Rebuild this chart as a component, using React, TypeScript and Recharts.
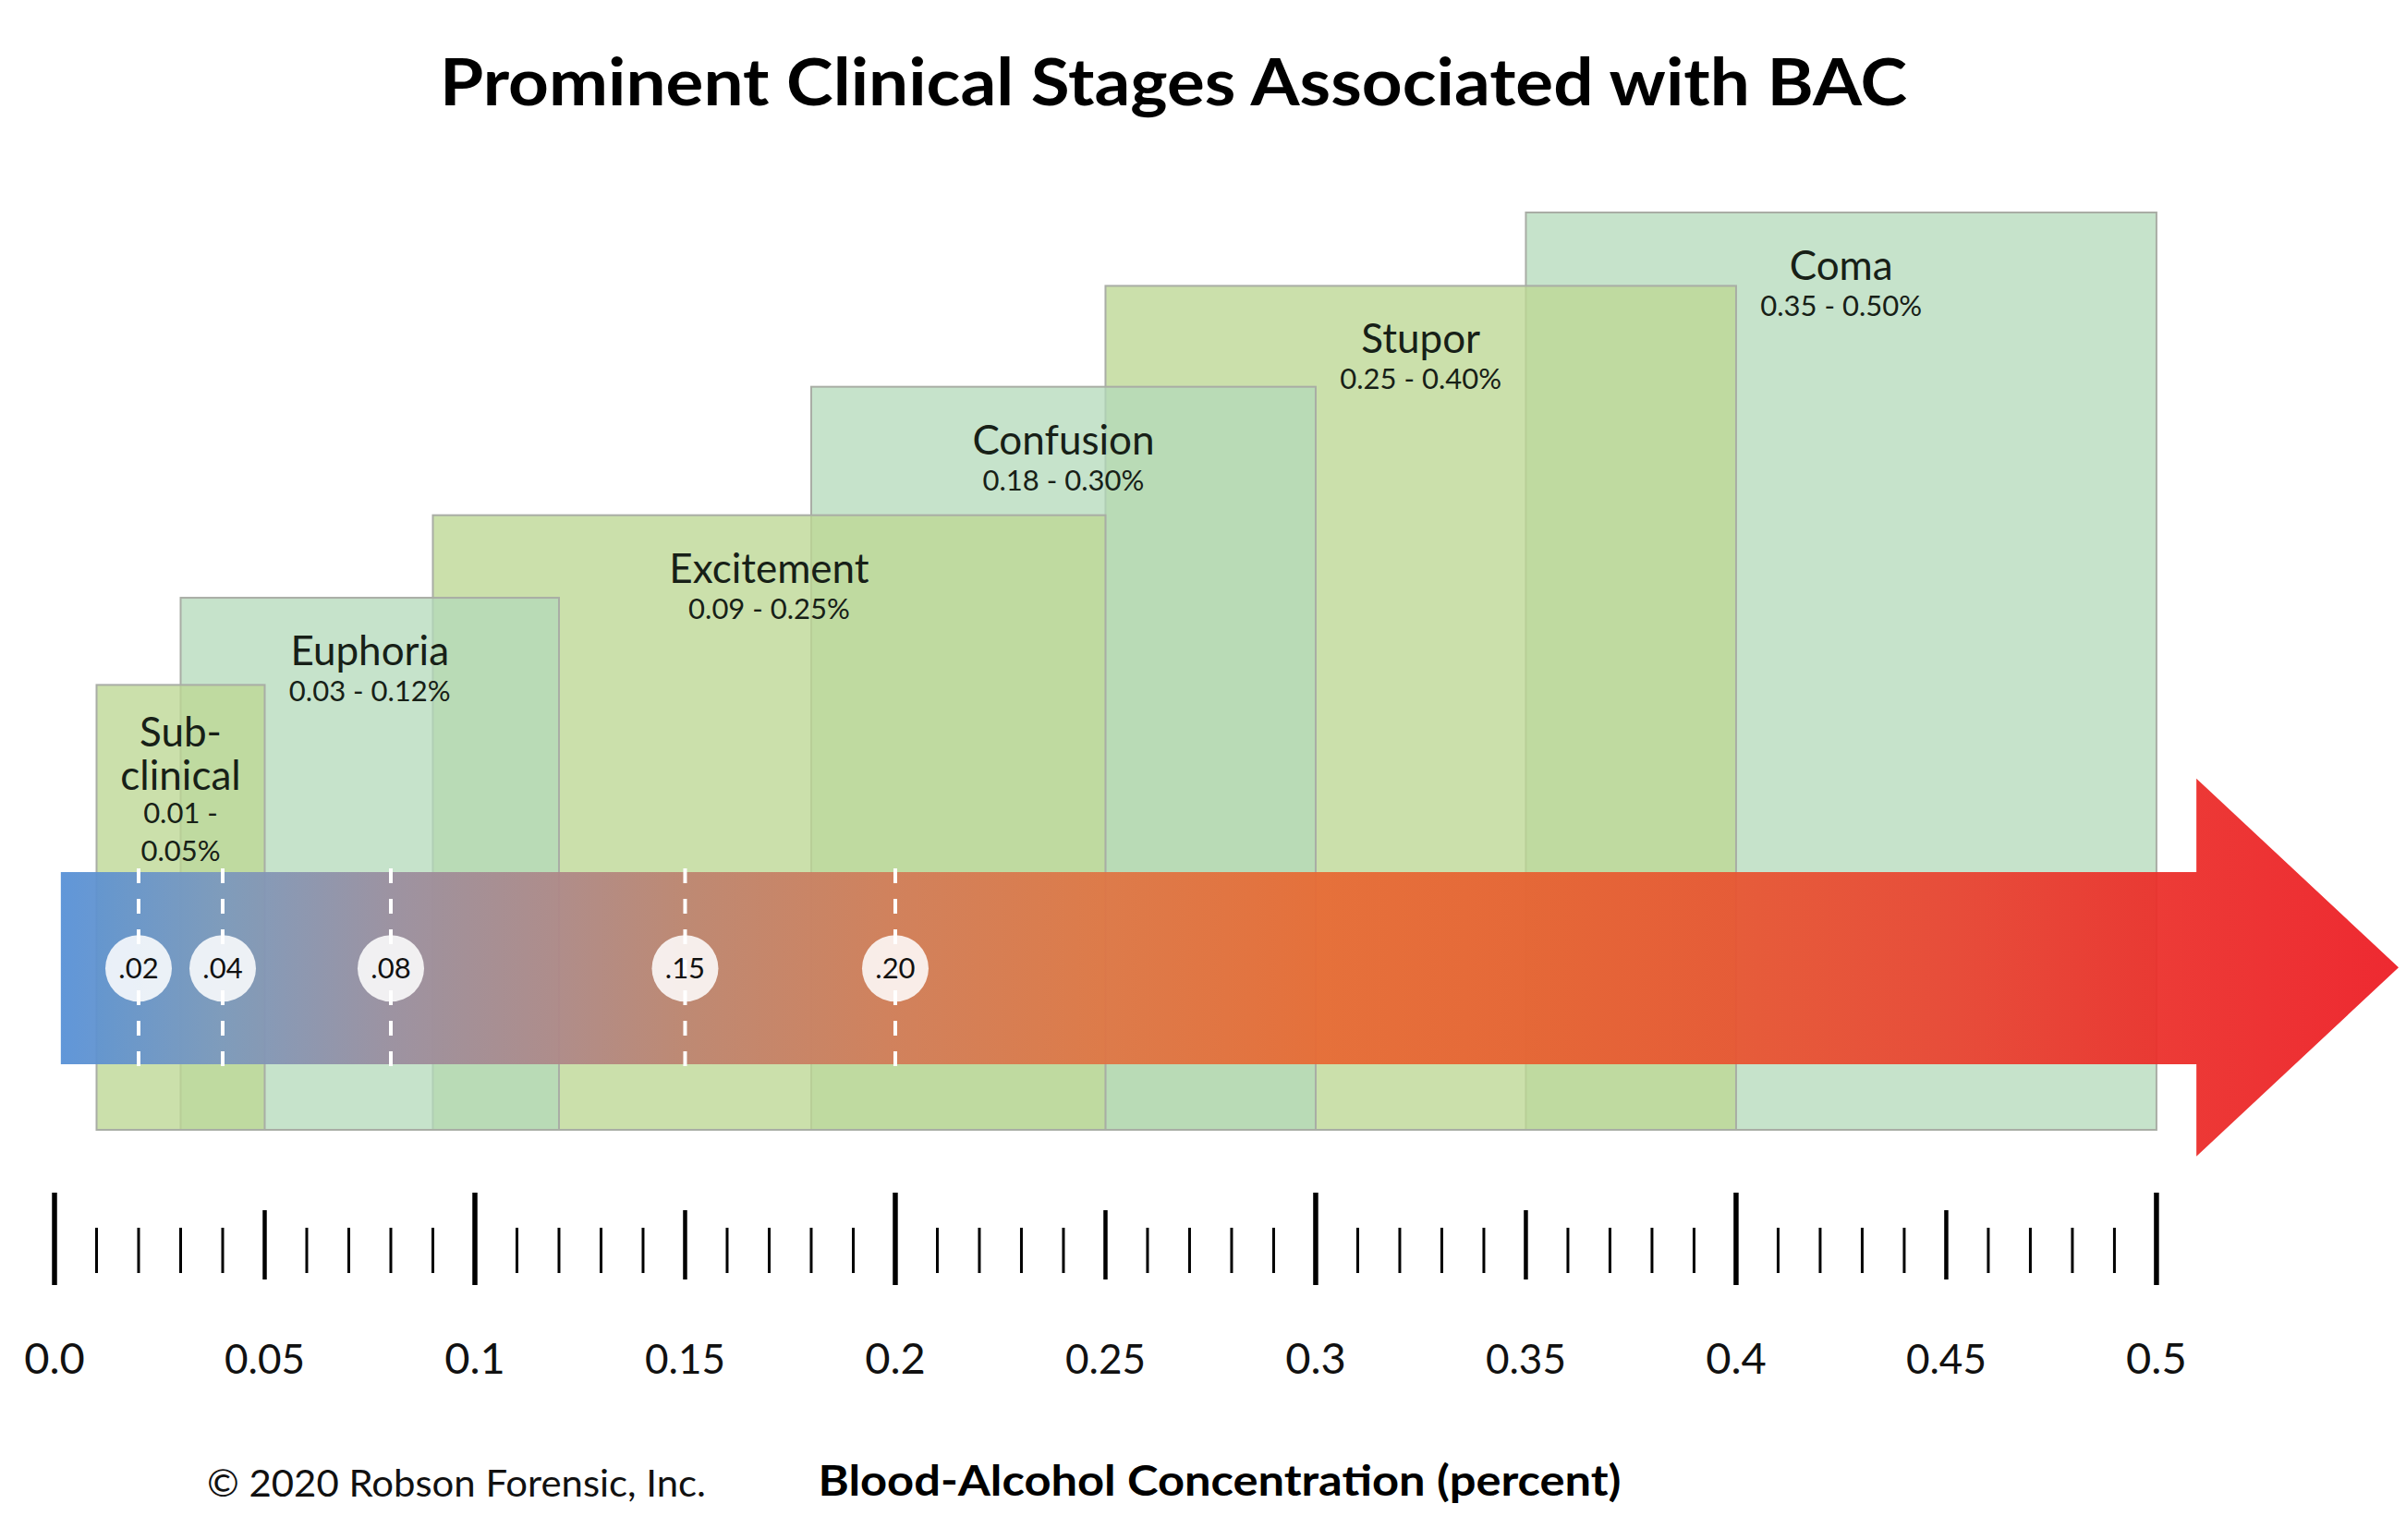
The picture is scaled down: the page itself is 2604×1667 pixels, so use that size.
import React from 'react';
import { ComposedChart, XAxis, YAxis, ReferenceArea, ReferenceLine, ReferenceDot } from 'recharts';

const W = 2604;
const H = 1667;
const FONT = 'Lato, "Open Sans", sans-serif';

// Clinical stages (BAC ranges, percent) and the relative height of each stage box
const stageNames = ['Sub-clinical', 'Euphoria', 'Excitement', 'Confusion', 'Stupor', 'Coma'];
const stageLow = [0.01, 0.03, 0.09, 0.18, 0.25, 0.35];
const stageHigh = [0.05, 0.12, 0.25, 0.3, 0.4, 0.5];
const stageLevel = [48.5, 58, 67, 81, 92, 100];

// Marked BAC levels on the arrow
const markerValues = [0.02, 0.04, 0.08, 0.15, 0.2];
const markerLabels = ['.02', '.04', '.08', '.15', '.20'];

// Ruler labels
const labelValues = [0, 0.05, 0.1, 0.15, 0.2, 0.25, 0.3, 0.35, 0.4, 0.45, 0.5];
const tickLabels = ['0.0', '0.05', '0.1', '0.15', '0.2', '0.25', '0.3', '0.35', '0.4', '0.45', '0.5'];

// Arrow extent in data units
const arrowStart = 0.0015;
const arrowHeadStart = 0.5095;
const arrowTip = 0.5576;
const arrowBodyLow = 7.15;
const arrowBodyHigh = 28.1;
const arrowHeadLow = -2.9;
const arrowHeadHigh = 38.3;
const markerLineLow = 6.75;
const markerLineHigh = 28.5;
const markerCenter = 17.6;

const rulerTicks = Array.from({ length: 51 }, (_, i) => Number((i * 0.01).toFixed(2)));

const stageRows = stageNames.map((name, i) => ({
  name,
  low: stageLow[i],
  high: stageHigh[i],
  level: stageLevel[i],
}));

const fmt = (v: number) => v.toFixed(2);

const RulerTick = (props: any) => {
  const { x, y, payload } = props;
  const v = payload.value as number;
  const idx = Math.round(v * 100);
  const major = idx % 10 === 0;
  const medium = !major && idx % 5 === 0;
  const y1 = major ? 68 : medium ? 87 : 106;
  const y2 = major ? 168 : medium ? 162 : 155;
  const sw = major ? 5.5 : medium ? 4.5 : 3;
  const li = labelValues.findIndex((lv) => Math.abs(lv - v) < 1e-6);
  return (
    <g>
      <line x1={x} x2={x} y1={y + y1} y2={y + y2} stroke="#000" strokeWidth={sw} />
      {li >= 0 && (
        <text
          x={x}
          y={y + 264}
          textAnchor="middle"
          fontFamily={FONT}
          fontSize={major ? 47 : 44}
          fill="#111"
        >
          {tickLabels[li]}
        </text>
      )}
    </g>
  );
};

const StageBox = (props: any) => {
  const { x, y, width, height, i } = props;
  const even = i % 2 === 0;
  const name = stageNames[i];
  const range = `${fmt(stageLow[i])} - ${fmt(stageHigh[i])}%`;
  const cx = x + width / 2;
  const narrow = width < 250;
  const textFill = '#172017';
  return (
    <g>
      <rect
        x={x}
        y={y}
        width={width}
        height={height}
        fill={even ? '#bcd793' : '#b3d9b9'}
        fillOpacity={even ? 0.78 : 0.75}
        stroke="#a9ada5"
        strokeWidth={2}
      />
      {narrow ? (
        <g fontFamily={FONT} fill={textFill} textAnchor="middle">
          <text x={cx} y={y + 67} fontSize={44}>{name.split('-')[0] + '-'}</text>
          <text x={cx} y={y + 114} fontSize={44}>{name.split('-')[1]}</text>
          <text x={cx} y={y + 150} fontSize={31}>{`${fmt(stageLow[i])} -`}</text>
          <text x={cx} y={y + 191} fontSize={31}>{`${fmt(stageHigh[i])}%`}</text>
        </g>
      ) : (
        <g fontFamily={FONT} fill={textFill} textAnchor="middle">
          <text x={cx} y={y + 73} fontSize={44}>{name}</text>
          <text x={cx} y={y + 112} fontSize={31}>{range}</text>
        </g>
      )}
    </g>
  );
};

const ArrowShape = (props: any) => {
  const { x, y, width, height } = props;
  const hx = x + (width * (arrowHeadStart - arrowStart)) / (arrowTip - arrowStart);
  const span = arrowHeadHigh - arrowHeadLow;
  const bt = y + (height * (arrowHeadHigh - arrowBodyHigh)) / span;
  const bb = y + (height * (arrowHeadHigh - arrowBodyLow)) / span;
  const d = `M${x},${bt} L${hx},${bt} L${hx},${y} L${x + width},${y + height / 2} L${hx},${y + height} L${hx},${bb} L${x},${bb} Z`;
  return (
    <g>
      <defs>
        <linearGradient id="bacGrad" x1="0" y1="0" x2="1" y2="0">
          <stop offset="0" stopColor="#5690d6" />
          <stop offset="0.069" stopColor="#7b98bd" />
          <stop offset="0.141" stopColor="#9a8e9f" />
          <stop offset="0.213" stopColor="#ae8888" />
          <stop offset="0.267" stopColor="#bd8470" />
          <stop offset="0.357" stopColor="#d27c58" />
          <stop offset="0.447" stopColor="#df7544" />
          <stop offset="0.537" stopColor="#e76a34" />
          <stop offset="0.627" stopColor="#e76131" />
          <stop offset="0.717" stopColor="#e85431" />
          <stop offset="0.807" stopColor="#e94431" />
          <stop offset="0.896" stopColor="#eb2f2a" />
          <stop offset="1" stopColor="#ed1c24" />
        </linearGradient>
      </defs>
      <path d={d} fill="url(#bacGrad)" fillOpacity={0.94} />
    </g>
  );
};

const MarkerDot = (props: any) => {
  const { cx, cy, label } = props;
  return (
    <g>
      <circle cx={cx} cy={cy} r={36} fill="#ffffff" fillOpacity={0.86} />
      <text
        x={cx}
        y={cy + 11}
        textAnchor="middle"
        fontFamily={FONT}
        fontSize={31}
        fill="#111"
      >
        {label}
      </text>
    </g>
  );
};

const drawOrder = [5, 4, 3, 2, 1, 0];

export default function App() {
  return (
    <div style={{ position: 'relative', width: W, height: H, background: '#fff' }}>
      <style>{'body{margin:0;}'}</style>
      <ComposedChart
        width={W}
        height={H}
        data={stageRows}
        margin={{ top: 230, right: 8, bottom: 144, left: 59 }}
      >
        <XAxis
          type="number"
          dataKey="low"
          domain={[0, arrowTip]}
          allowDataOverflow
          ticks={rulerTicks}
          interval={0}
          tick={<RulerTick />}
          tickLine={false}
          axisLine={false}
          tickSize={0}
          tickMargin={0}
          height={300}
        />
        <YAxis type="number" domain={[0, 100]} hide allowDataOverflow />
        {drawOrder.map((i) => (
          <ReferenceArea
            key={stageNames[i]}
            x1={stageLow[i]}
            x2={stageHigh[i]}
            y1={0}
            y2={stageLevel[i]}
            ifOverflow="visible"
            shape={(p: any) => <StageBox {...p} i={i} />}
          />
        ))}
        <ReferenceArea
          x1={arrowStart}
          x2={arrowTip}
          y1={arrowHeadLow}
          y2={arrowHeadHigh}
          ifOverflow="visible"
          shape={(p: any) => <ArrowShape {...p} />}
        />
        {markerValues.map((v) => (
          <ReferenceLine
            key={`l${v}`}
            segment={[
              { x: v, y: markerLineHigh },
              { x: v, y: markerLineLow },
            ]}
            stroke="#ffffff"
            strokeWidth={4}
            strokeDasharray="16 17"
            ifOverflow="visible"
          />
        ))}
        {markerValues.map((v, i) => (
          <ReferenceDot
            key={`d${v}`}
            x={v}
            y={markerCenter}
            r={36}
            ifOverflow="visible"
            shape={(p: any) => <MarkerDot {...p} label={markerLabels[i]} />}
          />
        ))}
      </ComposedChart>
      <svg
        width={W}
        height={H}
        style={{ position: 'absolute', left: 0, top: 0, pointerEvents: 'none' }}
      >
        <text
          x={1270}
          y={114}
          textAnchor="middle"
          fontFamily={FONT}
          fontWeight={700}
          fontSize={70}
          fill="#000"
          textLength={1588}
          lengthAdjust="spacingAndGlyphs"
        >
          Prominent Clinical Stages Associated with BAC
        </text>
        <text
          x={494}
          y={1620}
          textAnchor="middle"
          fontFamily={FONT}
          fontSize={41}
          fill="#111"
          textLength={540}
          lengthAdjust="spacingAndGlyphs"
        >
          © 2020 Robson Forensic, Inc.
        </text>
        <text
          x={1320}
          y={1619}
          textAnchor="middle"
          fontFamily={FONT}
          fontWeight={700}
          fontSize={45}
          fill="#000"
          textLength={869}
          lengthAdjust="spacingAndGlyphs"
        >
          Blood-Alcohol Concentration (percent)
        </text>
      </svg>
    </div>
  );
}
